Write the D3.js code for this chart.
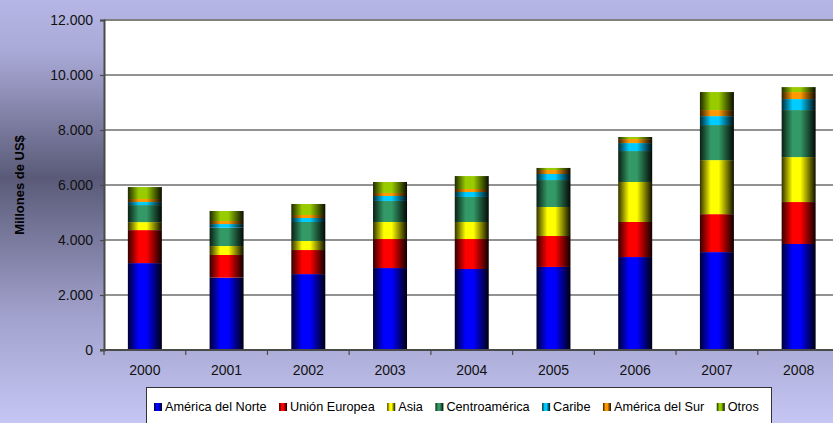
<!DOCTYPE html>
<html>
<head>
<meta charset="utf-8">
<script src="https://cdn.jsdelivr.net/npm/d3@7"></script>
<style>
  body { margin: 0; overflow: hidden; }
  svg { display: block; font-family: "Liberation Sans", Arial, sans-serif; }
</style>
</head>
<body>
<svg></svg>
<script>
var width = 833;
var height = 423;

// data (millones de US$)
var years = ["2000", "2001", "2002", "2003", "2004", "2005", "2006", "2007", "2008"];
var series = ["América del Norte", "Unión Europea", "Asia", "Centroamérica", "Caribe", "América del Sur", "Otros"];
var colors = ["#0000ff", "#ff0000", "#ffff00", "#339966", "#00ccff", "#ff9900", "#99cc00"];

var norte   = [3160, 2630, 2760, 2980, 2945, 3020, 3380, 3560, 3855];
var europa  = [1200,  825,  875, 1055, 1090, 1125, 1275, 1380, 1525];
var asia    = [ 290,  325,  330,  620,  620, 1055, 1455, 1965, 1635];
var centro  = [ 620,  665,  690,  765,  910,  980, 1125, 1275, 1710];
var caribe  = [ 110,  135,  145,  180,  180,  220,  290,  325,  400];
var sur     = [ 110,  110,  110,  110,  110,  145,  145,  220,  255];
var otros   = [ 435,  365,  400,  400,  470,   75,   75,  655,  180];

var yTicks = [0, 2000, 4000, 6000, 8000, 10000, 12000];

var values = [norte, europa, asia, centro, caribe, sur, otros];
var table = years.map(function(y, i) {
  var row = { year: y };
  series.forEach(function(s, j) { row[s] = values[j][i]; });
  return row;
});

var svg = d3.select("svg")
  .attr("width", width)
  .attr("height", height);

var defs = svg.append("defs");

// background
var bg = defs.append("linearGradient")
  .attr("id", "bg")
  .attr("x1", 0).attr("y1", 0).attr("x2", 0).attr("y2", 1);
[[0, "#b6b6e6"], [0.12, "#aaaad8"], [0.42, "#5a5a78"], [0.75, "#a2a2ce"], [1, "#c6c6f4"]]
  .forEach(function(s) { bg.append("stop").attr("offset", s[0]).attr("stop-color", s[1]); });

svg.append("rect")
  .attr("width", width)
  .attr("height", height)
  .attr("fill", "url(#bg)");

// bar shading: dark edges, bright left-of-centre
colors.forEach(function(c, i) {
  var g = defs.append("linearGradient")
    .attr("id", "g" + i)
    .attr("x1", 0).attr("y1", 0).attr("x2", 1).attr("y2", 0);
  var base = d3.rgb(c);
  var dark = function(k) { return d3.rgb(base.r * k, base.g * k, base.b * k).toString(); };
  g.append("stop").attr("offset", 0).attr("stop-color", dark(0.2));
  g.append("stop").attr("offset", 0.32).attr("stop-color", c);
  g.append("stop").attr("offset", 0.55).attr("stop-color", c);
  g.append("stop").attr("offset", 1).attr("stop-color", dark(0.06));
});

var plotLeft = 104, plotTop = 20, plotBottom = 350;

var x = d3.scaleBand()
  .domain(years)
  .range([plotLeft, 839.5])
  .paddingInner(0.584)
  .paddingOuter(0.292);

var y = d3.scaleLinear()
  .domain([0, 12000])
  .range([plotBottom, plotTop]);

// plot area
svg.append("rect")
  .attr("x", plotLeft)
  .attr("y", plotTop)
  .attr("width", width - plotLeft)
  .attr("height", plotBottom - plotTop)
  .attr("fill", "#ffffff");

// gridlines
svg.append("g")
  .selectAll("line")
  .data(yTicks.filter(function(d) { return d > 0; }))
  .enter().append("line")
    .attr("x1", plotLeft)
    .attr("x2", width)
    .attr("y1", function(d) { return y(d); })
    .attr("y2", function(d) { return y(d); })
    .attr("stroke", function(d) { return d == 12000 ? "#808080" : "#6e6e6e"; })
    .attr("stroke-width", function(d) { return d == 12000 ? 2 : 1.4; });

// bars
var stack = d3.stack().keys(series);
var layers = stack(table);

svg.append("g")
  .selectAll("g")
  .data(layers)
  .enter().append("g")
    .attr("fill", function(d, i) { return "url(#g" + i + ")"; })
  .selectAll("rect")
  .data(function(d) { return d; })
  .enter().append("rect")
    .attr("x", function(d) { return x(d.data.year); })
    .attr("width", x.bandwidth())
    .attr("y", function(d) { return y(d[1]); })
    .attr("height", function(d) { return y(d[0]) - y(d[1]); });

// y axis
var yAxis = svg.append("g")
  .attr("transform", "translate(" + plotLeft + ",0)")
  .call(d3.axisLeft(y)
    .tickValues(yTicks)
    .tickSize(4)
    .tickPadding(7)
    .tickFormat(function(d) { return d3.format(",")(d).replace(/,/g, "."); }));
yAxis.select(".domain").attr("stroke", "#4a4a4a").attr("stroke-width", 2);
yAxis.selectAll(".tick line").attr("stroke", "#4a4a4a").attr("stroke-width", 1.2);
yAxis.selectAll("text")
  .attr("font-size", "14px")
  .attr("font-family", "Liberation Sans, Arial, sans-serif")
  .attr("fill", "#111");

// x axis
var xAxis = svg.append("g")
  .attr("transform", "translate(0," + plotBottom + ")")
  .call(d3.axisBottom(x).tickSize(0).tickPadding(15));
xAxis.select(".domain").remove();
xAxis.selectAll("text")
  .attr("font-size", "14px")
  .attr("font-family", "Liberation Sans, Arial, sans-serif")
  .attr("fill", "#111");

svg.append("line")
  .attr("x1", plotLeft - 4)
  .attr("x2", width)
  .attr("y1", plotBottom)
  .attr("y2", plotBottom)
  .attr("stroke", "#4a4a4a")
  .attr("stroke-width", 2);

svg.append("g")
  .selectAll("line")
  .data(d3.range(years.length + 1))
  .enter().append("line")
    .attr("x1", function(i) { return x.range()[0] + i * x.step(); })
    .attr("x2", function(i) { return x.range()[0] + i * x.step(); })
    .attr("y1", plotBottom)
    .attr("y2", plotBottom + 5)
    .attr("stroke", "#4a4a4a")
    .attr("stroke-width", 1.2);

// y title
svg.append("text")
  .attr("transform", "translate(19," + ((plotTop + plotBottom) / 2) + ") rotate(-90)")
  .attr("text-anchor", "middle")
  .attr("dominant-baseline", "central")
  .attr("font-size", "13px")
  .attr("font-weight", "bold")
  .attr("fill", "#000")
  .text("Millones de US$");

// legend
var legend = svg.append("g");
legend.append("rect")
  .attr("x", 146.5)
  .attr("y", 387.5)
  .attr("width", 625)
  .attr("height", 40)
  .attr("fill", "#ffffff")
  .attr("stroke", "#333")
  .attr("stroke-width", 1);

var lx = 154;
series.forEach(function(s, i) {
  legend.append("rect")
    .attr("x", lx)
    .attr("y", 403)
    .attr("width", 8)
    .attr("height", 8)
    .attr("fill", "url(#g" + i + ")");
  var t = legend.append("text")
    .attr("x", lx + 11)
    .attr("y", 411)
    .attr("font-size", "12.7px")
    .attr("fill", "#000")
    .text(s);
  lx += 11 + t.node().getComputedTextLength() + 12.5;
});
</script>
</body>
</html>
